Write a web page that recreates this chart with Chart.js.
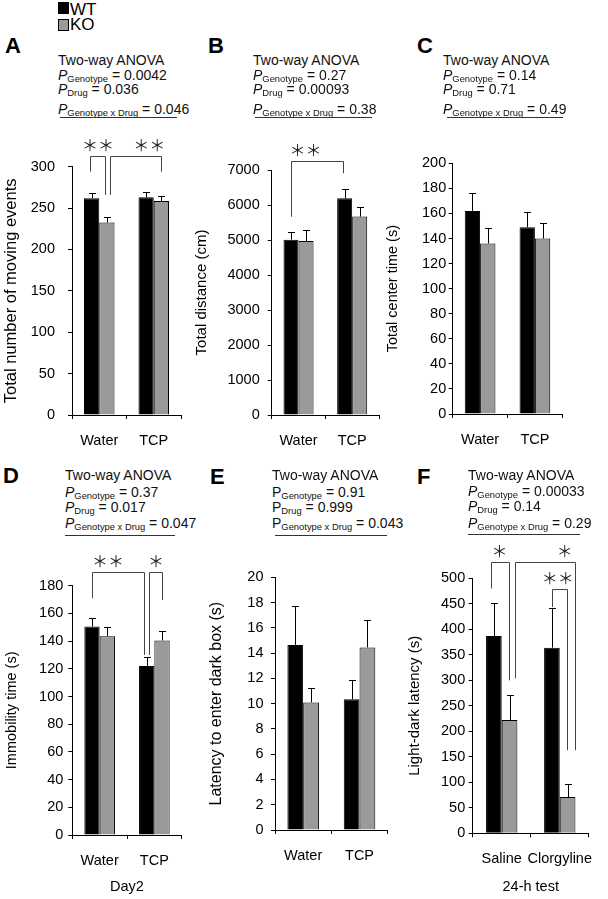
<!DOCTYPE html>
<html>
<head>
<meta charset="utf-8">
<script src="https://cdn.jsdelivr.net/npm/chart.js@4.4.1/dist/chart.umd.min.js"></script>
<style>
body { margin: 0; background: #fff; }
#fig { position: relative; width: 608px; height: 899px; overflow: hidden; font-family: "Liberation Sans", Arial, Helvetica, sans-serif; color: #000; }
#fig canvas { position: absolute; }
.letter { position: absolute; font-weight: bold; font-size: 22px; line-height: 22px; }
.line { position: absolute; font-size: 14px; line-height: 14px; white-space: nowrap; color: #111; }
.line sub { font-size: 9.4px; vertical-align: -2px; line-height: 0; }
.rule { position: absolute; height: 0; border-top: 1px solid #333; }
.sw { position: absolute; width: 9px; height: 10px; border: 1px solid #000; }
.legtxt { position: absolute; font-size: 17px; line-height: 17px; }
</style>
</head>
<body>
<div id="fig"></div>
<script>
// values (mean, sem)
const drugGroups = ["Water", "TCP"];
const clorGroups = ["Saline", "Clorgyline"];

const movingWT = [262, 263];
const movingWTErr = [6.5, 6];
const movingKO = [232.5, 258.5];
const movingKOErr = [6.5, 6.5];

const distWT = [5010, 6190];
const distWTErr = [230, 260];
const distKO = [4970, 5670];
const distKOErr = [330, 270];

const centerWT = [162, 149];
const centerWTErr = [14, 12];
const centerKO = [136, 140];
const centerKOErr = [12, 12];

const immobWT = [150.5, 122];
const immobWTErr = [6, 6.5];
const immobKO = [143.5, 140.5];
const immobKOErr = [7, 7];

const darkWT = [14.65, 10.35];
const darkWTErr = [3.05, 1.5];
const darkKO = [10.1, 14.45];
const darkKOErr = [1.1, 2.15];

const ldWT = [387, 364];
const ldWTErr = [64, 78];
const ldKO = [222, 71];
const ldKOErr = [49, 26];

// p values: genotype, drug, interaction
const pA = ["0.0042", "0.036", "0.046"];
const pB = ["0.27", "0.00093", "0.38"];
const pC = ["0.14", "0.71", "0.49"];
const pD = ["0.37", "0.017", "0.047"];
const pE = ["0.91", "0.999", "0.043"];
const pF = ["0.00033", "0.14", "0.29"];

Chart.defaults.font.family = '"Liberation Sans", Arial, Helvetica, sans-serif';
Chart.defaults.color = "#000";

const fig = document.getElementById("fig");

function errorBars() {
    return {
        id: "errorBars",
        afterDatasetsDraw(chart) {
            let ctx = chart.ctx;
            let y = chart.scales.y;
            ctx.save();
            ctx.strokeStyle = "#000";
            ctx.lineWidth = 1;
            chart.data.datasets.forEach(function(ds, di) {
                chart.getDatasetMeta(di).data.forEach(function(bar, i) {
                    let top = Math.round(y.getPixelForValue(ds.data[i] + ds.err[i])) + 0.5;
                    let x = Math.round(bar.x) + 0.5;
                    ctx.beginPath();
                    ctx.moveTo(x, bar.y);
                    ctx.lineTo(x, top);
                    ctx.moveTo(x - 3.5, top);
                    ctx.lineTo(x + 3.5, top);
                    ctx.stroke();
                });
            });
            ctx.restore();
        }
    };
}

// significance brackets: ends are [category, dataset, pixel nudge], heights in data units
function brackets(items) {
    return {
        id: "brackets",
        afterDraw(chart) {
            let ctx = chart.ctx;
            let y = chart.scales.y;
            ctx.save();
            ctx.strokeStyle = "#444";
            ctx.lineWidth = 1;
            ctx.fillStyle = "#222";
            ctx.font = '16px "Noto Sans CJK JP"';
            ctx.textAlign = "center";
            ctx.textBaseline = "middle";
            items.forEach(function(b) {
                let xa = Math.round(chart.getDatasetMeta(b.from[1]).data[b.from[0]].x + b.from[2]) + 0.5;
                let xb = Math.round(chart.getDatasetMeta(b.to[1]).data[b.to[0]].x + b.to[2]) + 0.5;
                let yt = Math.round(y.getPixelForValue(b.top)) + 0.5;
                ctx.beginPath();
                ctx.moveTo(xa, y.getPixelForValue(b.left));
                ctx.lineTo(xa, yt);
                ctx.lineTo(xb, yt);
                ctx.lineTo(xb, y.getPixelForValue(b.right));
                ctx.stroke();
                ctx.fillText(b.text, xa + (xb - xa) * b.at, yt - 12);
            });
            ctx.restore();
        }
    };
}

const panels = [
    { labels: drugGroups, wt: movingWT, wtErr: movingWTErr, ko: movingKO, koErr: movingKOErr,
      max: 300, step: 50, title: "Total number of moving events", titleSize: 16.5,
      box: { x: 0, y: 125, w: 200, h: 335 }, area: { l: 72, t: 166.7, r: 181, b: 415 }, tickPad: 13, titleX: 11,
      brackets: [
          { from: [0, 0, -2], to: [0, 1, -2], top: 313, left: 294, right: 266, text: "＊＊", at: 0.5 },
          { from: [0, 1, 3], to: [1, 1, 0], top: 313, left: 266, right: 294, text: "＊＊", at: 0.76 }
      ] },
    { labels: drugGroups, wt: distWT, wtErr: distWTErr, ko: distKO, koErr: distKOErr,
      max: 7000, step: 1000, title: "Total distance (cm)", titleSize: 15,
      box: { x: 188, y: 125, w: 200, h: 335 }, area: { l: 271.7, t: 170, r: 379, b: 415 }, tickPad: 8, titleX: 201.5,
      brackets: [
          { from: [0, 0, 0], to: [1, 0, -1.5], top: 7266, left: 5666, right: 6906, text: "＊＊", at: 0.27 }
      ] },
    { labels: drugGroups, wt: centerWT, wtErr: centerWTErr, ko: centerKO, koErr: centerKOErr,
      max: 200, step: 20, title: "Total center time (s)", titleSize: 14.5,
      box: { x: 380, y: 125, w: 200, h: 335 }, area: { l: 452.7, t: 163.3, r: 562.3, b: 414 }, tickPad: 2.5, titleX: 392.5,
      brackets: [] },
    { labels: drugGroups, wt: immobWT, wtErr: immobWTErr, ko: immobKO, koErr: immobKOErr,
      max: 180, step: 20, title: "Immobility time (s)", titleSize: 14.5, xTitle: "Day2",
      box: { x: 0, y: 540, w: 200, h: 359 }, area: { l: 72.3, t: 585.7, r: 181.7, b: 835 }, tickPad: 5, titleX: 12,
      brackets: [
          { from: [0, 0, 0], to: [1, 0, -3], top: 190, left: 171, right: 130, text: "＊＊", at: 0.3 },
          { from: [1, 0, 2], to: [1, 1, 0], top: 190, left: 130, right: 169.7, text: "＊", at: 0.5 }
      ] },
    { labels: drugGroups, wt: darkWT, wtErr: darkWTErr, ko: darkKO, koErr: darkKOErr,
      max: 20, step: 2, title: "Latency to enter dark box (s)", titleSize: 16,
      box: { x: 200, y: 540, w: 200, h: 359 }, area: { l: 275, t: 577.3, r: 387.7, b: 830 }, tickPad: 7.5, titleX: 217,
      brackets: [] },
    { labels: clorGroups, wt: ldWT, wtErr: ldWTErr, ko: ldKO, koErr: ldKOErr,
      max: 500, step: 50, title: "Light-dark latency (s)", titleSize: 15, xTitle: "24-h test", catPct: 0.54,
      box: { x: 398, y: 540, w: 210, h: 359 }, area: { l: 472.7, t: 578.3, r: 596, b: 833.3 }, tickPad: 3.5, titleX: 415,
      brackets: [
          { from: [0, 0, -3], to: [0, 1, -1], top: 532.5, left: 480, right: 300, text: "＊", at: 0.45 },
          { from: [0, 1, 5.5], to: [1, 1, 7], top: 532.5, left: 304, right: 163, text: "＊", at: 0.82 },
          { from: [1, 0, 0], to: [1, 1, -1], top: 478.4, left: 444, right: 163, text: "＊＊", at: 0.35 }
      ] }
];

function makePanel(p) {
    let cv = document.createElement("canvas");
    cv.width = p.box.w;
    cv.height = p.box.h;
    cv.style.left = p.box.x + "px";
    cv.style.top = p.box.y + "px";
    fig.appendChild(cv);
    let pct = p.catPct || 0.56;
    let lh = p.titleSize * 1.2;
    new Chart(cv, {
        type: "bar",
        data: {
            labels: p.labels,
            datasets: [
                { label: "WT", data: p.wt, err: p.wtErr, backgroundColor: "#000", borderColor: "#000",
                  borderWidth: 1, categoryPercentage: pct, barPercentage: 1 },
                { label: "KO", data: p.ko, err: p.koErr, backgroundColor: "#9a9a9a", borderColor: "#000",
                  borderWidth: 1, categoryPercentage: pct, barPercentage: 1 }
            ]
        },
        options: {
            responsive: false,
            animation: false,
            devicePixelRatio: 1,
            layout: { padding: { top: p.area.t - p.box.y, right: p.box.x + p.box.w - p.area.r, left: 0, bottom: 0 } },
            plugins: { legend: { display: false }, tooltip: { enabled: false } },
            scales: {
                x: {
                    grid: { offset: true, drawOnChartArea: false, tickLength: 4, color: "#000" },
                    border: { color: "#000", width: 1 },
                    ticks: { font: { size: 14.5 }, padding: 13, maxRotation: 0, autoSkip: false },
                    title: { display: !!p.xTitle, text: p.xTitle || "", font: { size: 14.5 }, padding: { top: 0, bottom: 3 } },
                    afterFit: function(s) { s.height = p.box.y + p.box.h - p.area.b; }
                },
                y: {
                    min: 0,
                    max: p.max,
                    grid: { drawOnChartArea: false, tickLength: 4, color: "#000" },
                    border: { color: "#000", width: 1 },
                    ticks: { stepSize: p.step, font: { size: 14.5 }, padding: p.tickPad,
                             callback: function(v) { return String(v); } },
                    title: { display: true, text: p.title, font: { size: p.titleSize },
                             padding: { top: p.titleX - p.box.x - lh / 2, bottom: 0 } },
                    afterFit: function(s) { s.width = p.area.l - p.box.x; }
                }
            }
        },
        plugins: [errorBars(), brackets(p.brackets)]
    });
}

panels.forEach(makePanel);

function addDiv(cls, x, y, html) {
    let d = document.createElement("div");
    d.className = cls;
    d.style.left = x + "px";
    d.style.top = y + "px";
    d.innerHTML = html;
    fig.appendChild(d);
    return d;
}

// panel letters
[["A", 5, 35], ["B", 208, 35], ["C", 417, 35], ["D", 3, 465], ["E", 210, 466], ["F", 417, 466]].forEach(function(l) {
    addDiv("letter", l[1], l[2], l[0]);
});

// ANOVA blocks
const anova = [
    { p: pA, x: 58, base: [65, 80, 94, 113.5], rule: [60, 177, 117], it: true },
    { p: pB, x: 253, base: [65, 80, 94, 113.5], rule: [255, 372, 117], it: true },
    { p: pC, x: 443, base: [65, 80, 94, 113.5], rule: [447, 563, 117], it: true },
    { p: pD, x: 65, base: [480, 496.5, 511.5, 528.3], rule: [65, 175, 534.5], it: true },
    { p: pE, x: 272, base: [480, 496.5, 511.5, 528.3], rule: [275, 387, 535], it: false },
    { p: pF, x: 468, base: [480, 496, 511, 527.5], rule: [468, 580, 534], it: true }
];
anova.forEach(function(a) {
    let P = a.it ? "<i>P</i>" : "P";
    let lines = [
        "Two-way ANOVA",
        P + "<sub>Genotype</sub> = " + a.p[0],
        P + "<sub>Drug</sub> = " + a.p[1],
        P + "<sub>Genotype x Drug</sub> = " + a.p[2]
    ];
    lines.forEach(function(t, i) {
        addDiv("line", a.x, a.base[i] - 11.9, t);
    });
    let r = addDiv("rule", a.rule[0], a.rule[2], "");
    r.style.width = (a.rule[1] - a.rule[0]) + "px";
});

// legend
let s1 = addDiv("sw", 58, 2, "");
s1.style.background = "#000";
let s2 = addDiv("sw", 58, 18.5, "");
s2.style.background = "#9a9a9a";
addDiv("legtxt", 70, 0.6, "WT");
addDiv("legtxt", 70, 16.3, "KO");
</script>
</body>
</html>
